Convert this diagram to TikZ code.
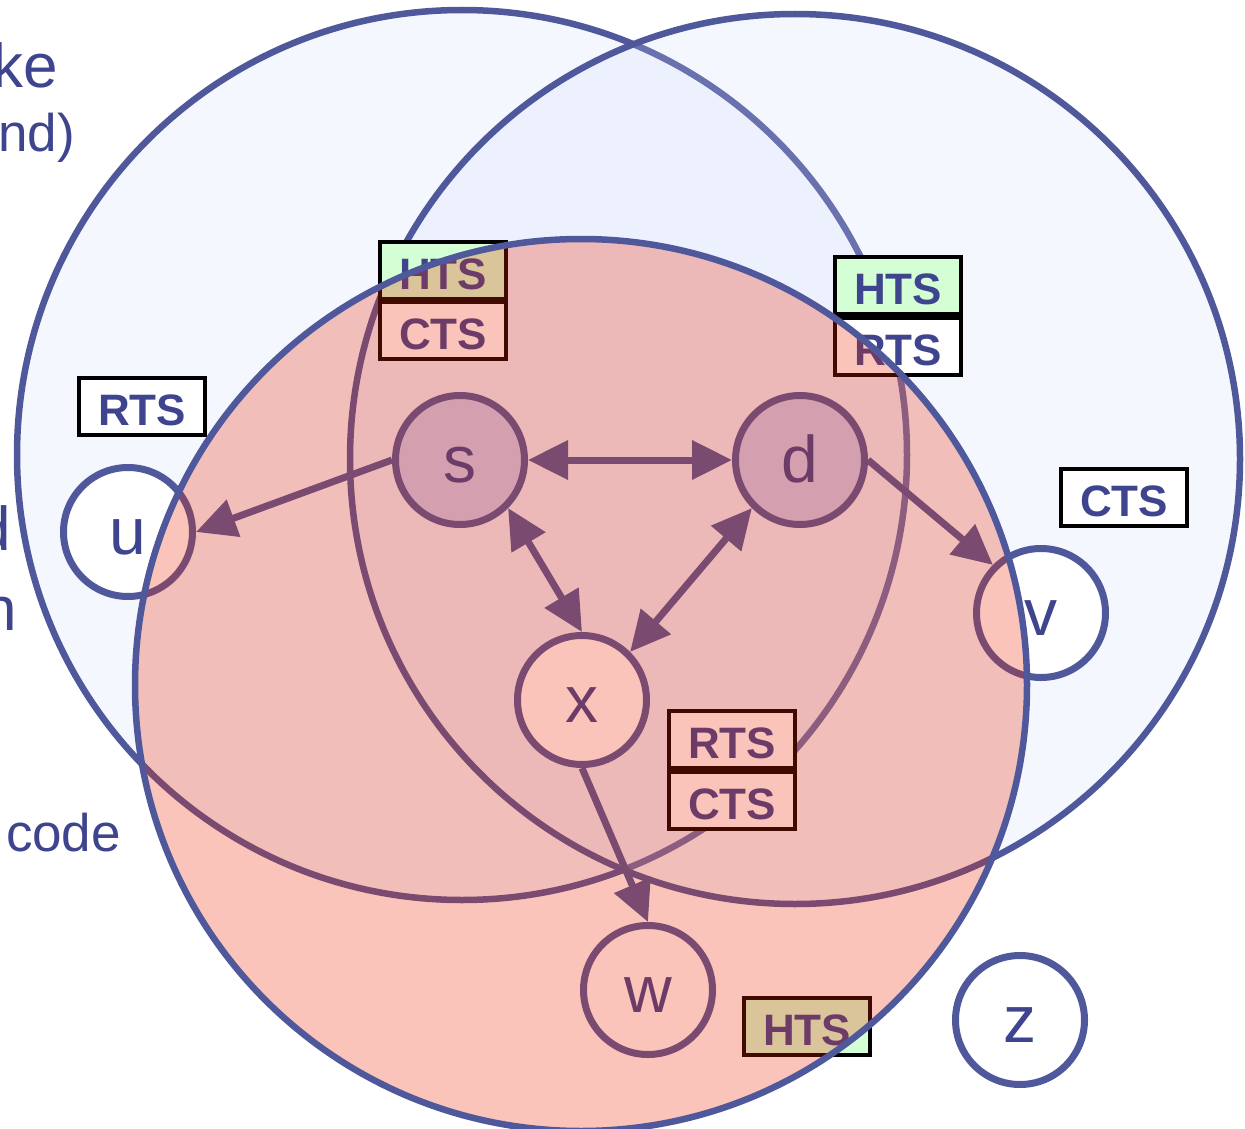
\documentclass[tikz,border=0pt]{standalone}
\usepackage{fontspec}
\setmainfont{Liberation Sans}
\usetikzlibrary{arrows.meta}
\definecolor{lineblue}{RGB}{80,88,156}
\definecolor{textblue}{RGB}{62,68,142}
\definecolor{cellfill}{RGB}{207,219,251}
\definecolor{redover}{RGB}{237,37,0}
\definecolor{htsgreen}{RGB}{212,255,212}
\definecolor{activefill}{RGB}{203,206,242}
\tikzset{
  rangecircle/.style={draw=lineblue, line width=6.5pt},
  station/.style={circle, draw=lineblue, line width=7pt, fill=white,
    minimum size=129pt, inner sep=0pt, text=textblue,
    font=\fontsize{66}{70}\selectfont, text height=44pt, text depth=0pt},
  active/.style={station, fill=activefill},
  msg/.style={rectangle, draw=black, line width=4pt, fill=white,
    minimum width=126pt, minimum height=57pt, inner sep=0pt, text=textblue,
    font=\bfseries\fontsize{44}{48}\selectfont, text height=39pt, text depth=0pt},
  htsmsg/.style={msg, fill=htsgreen},
  link/.style={draw=lineblue, line width=7pt},
  sidetext/.style={text=textblue, inner sep=0pt, outer sep=0pt},
  bigside/.style={sidetext, font=\fontsize{62}{66}\selectfont},
  smallside/.style={sidetext, font=\fontsize{53}{57}\selectfont}
}
\begin{document}
\begin{tikzpicture}[x=1pt, y=-1pt, >={Triangle[length=40pt,width=38pt]}]
\useasboundingbox (0,0) rectangle (1245,1129);
\fill[white] (0,0) rectangle (1245,1129);

% range of s and d
\fill[cellfill, fill opacity=0.2] (462,455) circle[radius=445pt];
\draw[rangecircle] (462,455) circle[radius=445pt];
\fill[cellfill, fill opacity=0.2] (795,459) circle[radius=445pt];
\draw[rangecircle] (795,459) circle[radius=445pt];

% control messages
\node[msg] (rtsL) at (142,406) {RTS};
\node[htsmsg] (htsTL) at (443,270) {HTS};
\node[msg] (ctsTL) at (443,330) {CTS};
\node[htsmsg] (htsR) at (898,285) {HTS};
\node[msg] (rtsR) at (898,346) {RTS};
\node[msg] (ctsR) at (1124,497) {CTS};
\node[msg] (rtsM) at (732,739) {RTS};
\node[msg] (ctsM) at (732,800) {CTS};
\node[htsmsg] (htsB) at (807,1026) {HTS};

% stations
\node[active] (s) at (460,460) {s};
\node[active] (d) at (800,460) {d};
\node[station] (x) at (582,700) {x};
\node[station] (w) at (648,990) {w};
\node[station] (u) at (128,532) {u};
\node[station] (v) at (1041,613) {v};
\node[station] (z) at (1020,1020) {z};

% links
\draw[link, <->] (s.east) -- (d.west);
\draw[link, <->] (s.south east) -- (x.north);
\draw[link, <->] (d.south west) -- (x.north east);
\draw[link, ->] (s.west) -- (u.east);
\draw[link, ->] (d.east) -- (v.north west);
\draw[link, ->] (x.south) -- (w.north);

% slide text fragments (cut at the left edge as in the reference)
\node[bigside, anchor=base east] (t1) at (58,88) {ke};
\node[smallside, anchor=base east] (t2) at (75,152) {nd)};
\node[bigside, anchor=base east] (t3) at (11,550) {d};
\node[bigside, anchor=base east] (t4) at (17,630) {n};
\node[smallside, anchor=base west] (t5) at (6,851) {code};

% range of x (overlay)
\fill[redover, fill opacity=0.27] (581,685) circle[radius=446pt];
\draw[rangecircle] (581,685) circle[radius=446pt];
\end{tikzpicture}
\end{document}
